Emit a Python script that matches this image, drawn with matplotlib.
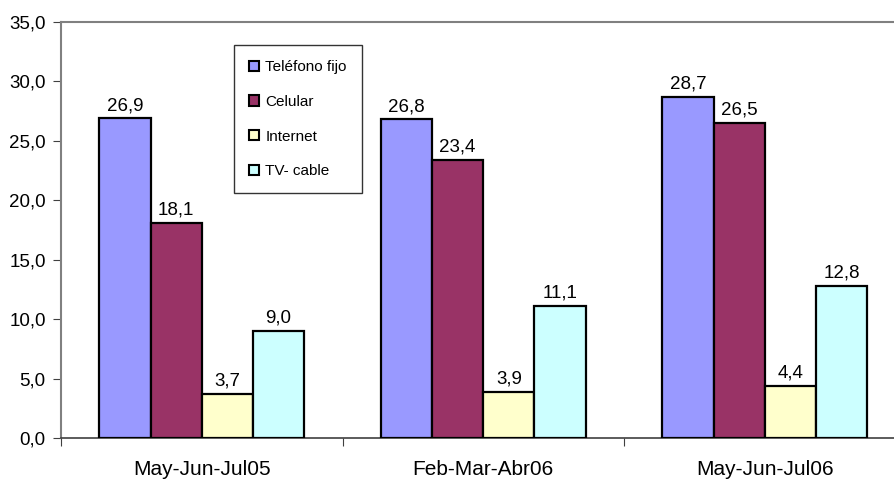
import numpy as np
import matplotlib
matplotlib.use('Agg')
import matplotlib.pyplot as plt
from matplotlib.patches import Patch

plt.rcParams['font.family'] = ['Liberation Sans', 'DejaVu Sans']

periods = ['May-Jun-Jul05', 'Feb-Mar-Abr06', 'May-Jun-Jul06']
series = ['Teléfono fijo', 'Celular', 'Internet', 'TV- cable']
telefono_fijo = [26.9, 26.8, 28.7]
celular = [18.1, 23.4, 26.5]
internet = [3.7, 3.9, 4.4]
tv_cable = [9.0, 11.1, 12.8]
colors = ['#9999FF', '#993366', '#FFFFCC', '#CCFFFF']

values = [telefono_fijo, celular, internet, tv_cable]

fig = plt.figure(figsize=(8.94, 4.86), dpi=100)
ax = fig.add_axes([61 / 894, 48 / 486, 844.5 / 894, 416 / 486])

x = np.arange(len(periods))
width = 0.182
for i, (name, vals, col) in enumerate(zip(series, values, colors)):
    pos = x + (i - 1.5) * width
    ax.bar(pos, vals, width, color=col, edgecolor='black', linewidth=1.6, label=name, zorder=3)
    for p, v in zip(pos, vals):
        ax.annotate(f'{v:.1f}'.replace('.', ','), (p, v), xytext=(0, 3), textcoords='offset points',
                    ha='center', va='bottom', fontsize=13.5)

ax.set_xlim(-0.5, 2.5)
ax.set_ylim(0, 35)
ax.set_yticks(np.arange(0, 36, 5))
ax.set_yticklabels([f'{t:.1f}'.replace('.', ',') for t in np.arange(0, 36, 5)], fontsize=13.5)
ax.set_xticks([-0.5, 0.5, 1.5, 2.5])
ax.set_xticklabels([])
ax.set_xticks(x, minor=True)
ax.set_xticklabels(periods, minor=True, fontsize=15)
ax.tick_params(axis='x', which='minor', length=0, pad=16)
ax.tick_params(axis='x', which='major', length=6, direction='out', color='#404040')
ax.tick_params(axis='y', length=6, direction='out', color='#404040', pad=5)

for s in ['left', 'top', 'right']:
    ax.spines[s].set_color('#808080')
    ax.spines[s].set_linewidth(1.5)
ax.spines['bottom'].set_color('#404040')
ax.spines['bottom'].set_linewidth(1.2)

handles = [Patch(facecolor=c, edgecolor='black', linewidth=1.5) for c in colors]
leg = ax.legend(handles, series, loc='upper left', bbox_to_anchor=((234 - 61) / 844.5, (438 - 45) / 416),
                fontsize=11, frameon=True, fancybox=False, edgecolor='black',
                handlelength=0.65, handleheight=0.65, handletextpad=0.4, labelspacing=1.35,
                borderpad=1.0, borderaxespad=0)
leg.get_frame().set_linewidth(1.0)

fig.savefig('out.png', dpi=100)
